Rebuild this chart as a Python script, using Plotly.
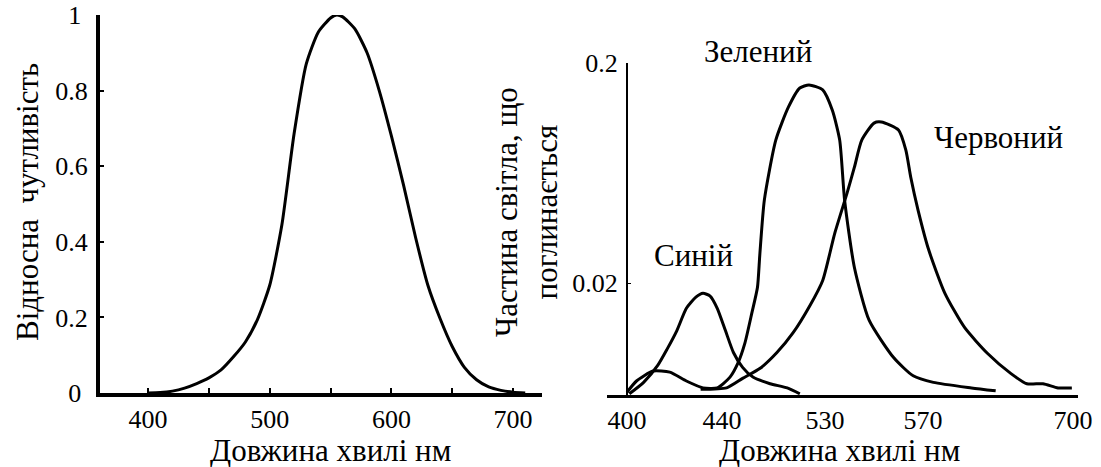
import numpy as np
import plotly.graph_objects as go

# ---------------- data ----------------
# Left panel: relative sensitivity of the eye
left_wl = [400, 410, 420, 430, 440, 450, 460, 470, 480, 490, 500, 510, 520, 530, 540, 550, 555,
           560, 570, 580, 590, 600, 610, 620, 630, 640, 650, 660, 670, 680, 690, 700, 710]
left_val = [0.0, 0.001, 0.005, 0.013, 0.025, 0.04, 0.061, 0.095, 0.135, 0.195, 0.285, 0.445, 0.685,
            0.87, 0.955, 0.992, 1.0, 0.995, 0.963, 0.9, 0.8, 0.68, 0.55, 0.41, 0.285, 0.197, 0.123,
            0.068, 0.035, 0.016, 0.007, 0.002, 0.0]
left_xtick_vals = [400, 450, 500, 550, 600, 650, 700]
left_xtick_text = ["400", "", "500", "", "600", "", "700"]
left_ytick_vals = [0, 0.2, 0.4, 0.6, 0.8, 1.0]
left_ytick_text = ["0\u2008", "0.2", "0.4", "0.6", "0.8", "1\u2008"]

# Right panel: fraction of light absorbed by the three cone types
blue_wl = [401, 407, 413, 417, 421, 425, 429, 432, 435, 438, 443, 450, 458, 467, 482, 497, 508]
blue_val = [0.0063, 0.0071, 0.0085, 0.0101, 0.0122, 0.0154, 0.0173, 0.0180, 0.0175, 0.0154,
            0.0122, 0.0097, 0.0083, 0.0075, 0.0070, 0.0067, 0.0063]
green_wl = [400, 404, 411, 418, 425, 432, 438, 447, 454, 460, 466, 471, 473, 477, 487, 498, 508,
            516, 528, 533, 536, 538, 542, 548, 558, 566, 579, 612, 633]
green_val = [0.0064, 0.0072, 0.0080, 0.0079, 0.0072, 0.0067, 0.0067, 0.0075, 0.0087, 0.0107,
             0.0146, 0.0192, 0.0268, 0.0477, 0.0893, 0.126, 0.154, 0.159, 0.151, 0.122,
             0.0893, 0.0477, 0.0236, 0.0136, 0.0092, 0.0076, 0.0071, 0.0067, 0.0065]
red_wl = [431, 444, 458, 473, 488, 502, 517, 528, 534, 539, 542, 545, 550, 553, 560, 563, 565, 568,
          575, 589, 606, 626, 646, 660, 674, 687, 699]
red_val = [0.0066, 0.0067, 0.0074, 0.0082, 0.0097, 0.0119, 0.0159, 0.0206, 0.0338, 0.0513, 0.0673,
           0.0893, 0.1067, 0.1079, 0.0992, 0.0804, 0.0606, 0.0429, 0.0283, 0.0180, 0.0126, 0.0096,
           0.0078, 0.0070, 0.0070, 0.0067, 0.0067]

# non-uniform (schematic) wavelength scale of the right panel
right_xtick_wl = [400, 440, 530, 570, 700]
right_xtick_text = ["400", "440", "530", "570", "700"]
right_xtick_pos = [0, 95, 198, 296, 446]
right_ytick_vals = [0.02, 0.2]
right_ytick_text = ["0.02", "0.2"]


def to_pos(wl):
    return np.interp(wl, right_xtick_wl, right_xtick_pos)


# ---------------- figure ----------------
W, H = 1101, 467
FONT = "Times New Roman"


def px(x):
    return x / W


def py(y):
    return 1 - y / H


fig = go.Figure()
line_style = dict(color="black", width=3, shape="spline", smoothing=0.6)
fig.add_trace(go.Scatter(x=left_wl, y=left_val, mode="lines", line=line_style,
                         xaxis="x", yaxis="y", cliponaxis=False, hoverinfo="skip"))
for wl, val in [(blue_wl, blue_val), (green_wl, green_val), (red_wl, red_val)]:
    fig.add_trace(go.Scatter(x=to_pos(wl), y=val, mode="lines", line=line_style,
                             xaxis="x2", yaxis="y2", cliponaxis=False, hoverinfo="skip"))

tickfont = dict(family=FONT, size=26, color="black")

fig.update_layout(
    template="none",
    width=W, height=H,
    margin=dict(l=0, r=0, t=0, b=0, autoexpand=False),
    paper_bgcolor="white", plot_bgcolor="white",
    font=dict(family="serif", color="black"),
    showlegend=False,
    xaxis=dict(domain=[px(100), px(542)], range=[360.5, 723.8], anchor="y", automargin=False,
               showline=True, linecolor="black", linewidth=4, showgrid=False, zeroline=False,
               tickmode="array", tickvals=left_xtick_vals, ticktext=left_xtick_text,
               ticks="inside", ticklen=5, tickwidth=2, tickcolor="black",
               tickfont=tickfont, ticklabelstandoff=0),
    yaxis=dict(domain=[py(393), py(15)], range=[0, 1], anchor="x", automargin=False,
               showline=True, linecolor="black", linewidth=4, showgrid=False, zeroline=False,
               tickmode="array", tickvals=left_ytick_vals, ticktext=left_ytick_text,
               ticks="inside", ticklen=4, tickwidth=2, tickcolor="black",
               tickfont=tickfont, ticklabelstandoff=3),
    xaxis2=dict(domain=[px(607), px(1078)], range=[-20, 451], anchor="y2", automargin=False,
                showline=True, linecolor="black", linewidth=3, showgrid=False, zeroline=False,
                tickmode="array", tickvals=right_xtick_pos, ticktext=right_xtick_text,
                ticks="", tickfont=tickfont, ticklabelstandoff=0),
    yaxis2=dict(domain=[py(395), py(63)], type="log",
                range=[np.log10(0.00622), np.log10(0.2)],
                anchor="free", position=px(627), automargin=False,
                showline=True, linecolor="black", linewidth=2, showgrid=False, zeroline=False,
                tickmode="array", tickvals=right_ytick_vals, ticktext=right_ytick_text,
                ticks="inside", ticklen=3, tickwidth=1, tickcolor="black",
                tickfont=tickfont, ticklabelstandoff=3),
)

title_font = dict(family=FONT, size=31, color="black")
ann = [
    dict(text="Довжина хвилі нм", x=px(330), y=py(450)),
    dict(text="Довжина хвилі нм", x=px(839), y=py(450)),
    dict(text="Відносна  чутливість", x=px(28), y=py(202), textangle=-90),
    dict(text="Частина світла, що<br>поглинається", x=px(526), y=py(212), textangle=-90),
    dict(text="Зелений", x=px(758), y=py(52)),
    dict(text="Синій", x=px(693), y=py(255)),
    dict(text="Червоний", x=px(998), y=py(137)),
]
for a in ann:
    fig.add_annotation(xref="paper", yref="paper", showarrow=False,
                       xanchor="center", yanchor="middle", font=title_font, **a)

fig.write_html("out.html", config={"displayModeBar": False},
               post_script="document.body.style.margin='0px';")
